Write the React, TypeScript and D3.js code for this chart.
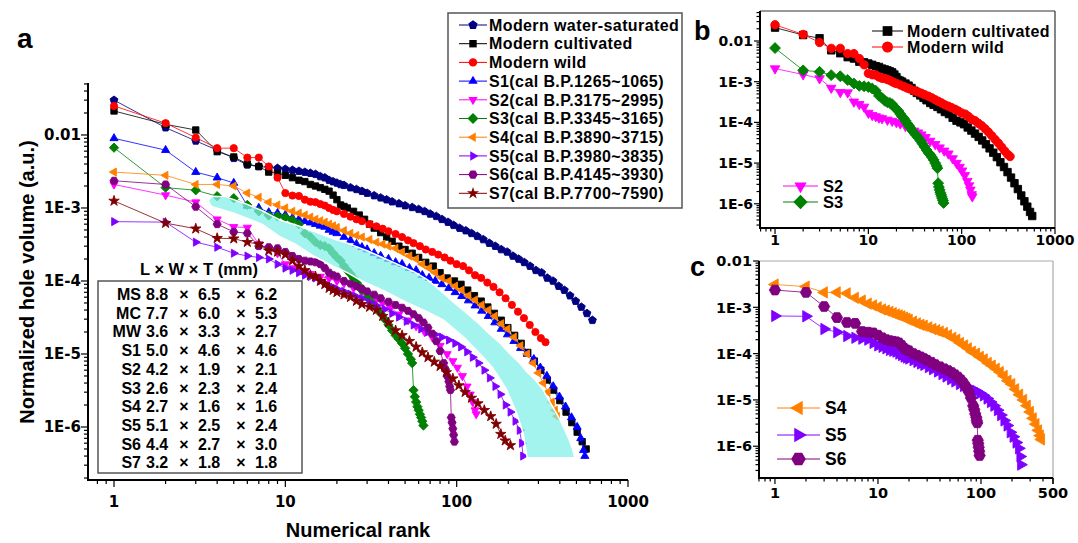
import React from "react";
import * as d3 from "d3";

// ---------------- data (rank, normalized hole volume) ----------------
const MS_DATA: [number, number][] = [
  [1, 0.03], [2, 0.0126], [3, 0.0083], [4, 0.0062], [5, 0.0048], [6, 0.0039], [7, 0.0037], [8, 0.0036], [9, 0.0035],
  [10, 0.0034], [11, 0.0033], [12, 0.0032], [13, 0.0031], [14, 0.003], [15, 0.0029], [16, 0.0027], [17, 0.0026], [18, 0.0024],
  [19, 0.0023], [20, 0.0022], [21, 0.0021], [22, 0.00205], [24, 0.0019], [26, 0.0018], [28, 0.0017], [30, 0.0016], [33, 0.00148],
  [36, 0.00138], [39, 0.0013], [42, 0.00122], [46, 0.00115], [50, 0.00108], [55, 0.00102], [60, 0.00096], [65, 0.0009],
  [70, 0.00083], [76, 0.00077], [82, 0.0007], [89, 0.00064], [96, 0.00058], [104, 0.00053], [113, 0.00049], [122, 0.00045],
  [132, 0.00041], [143, 0.00037], [155, 0.00033], [168, 0.0003], [182, 0.00027], [197, 0.00025], [213, 0.00022], [230, 0.0002],
  [248, 0.00018], [268, 0.00016], [290, 0.00014], [313, 0.00013], [338, 0.00011], [365, 0.0001], [394, 8.5e-5], [425, 7.5e-5],
  [459, 6.3e-5], [495, 5.3e-5], [534, 4.4e-5], [576, 3.6e-5], [620, 2.9e-5],
];
const MC_DATA: [number, number][] = [
  [1, 0.0213], [2, 0.014], [3, 0.0117], [4, 0.0059], [5, 0.005], [6, 0.004], [7, 0.0037], [8, 0.0031], [9, 0.003], [10, 0.0028],
  [11, 0.0026], [12, 0.0024], [13, 0.0023], [14, 0.0021], [15, 0.002], [16, 0.0019], [17, 0.0018], [18, 0.0017], [19, 0.0015],
  [20, 0.0013], [21, 0.0011], [22, 0.00105], [23, 0.001], [25, 0.0009], [27, 0.0008], [29, 0.0007], [31, 0.0006], [33, 0.00053],
  [36, 0.00046], [39, 0.0004], [42, 0.00035], [46, 0.0003], [50, 0.00027], [55, 0.00024], [60, 0.00021], [66, 0.00018],
  [73, 0.00016], [80, 0.00013], [88, 0.00011], [97, 0.0001], [106, 9e-5], [116, 7.5e-5], [127, 6.3e-5], [139, 5.3e-5],
  [152, 4.4e-5], [166, 3.6e-5], [182, 2.9e-5], [199, 2.3e-5], [218, 1.8e-5], [238, 1.4e-5], [260, 1.05e-5], [284, 8e-6],
  [310, 6e-6], [338, 4.4e-6], [368, 3.2e-6], [400, 2.3e-6], [435, 1.6e-6], [470, 1.15e-6], [505, 8.5e-7], [540, 6.3e-7], [570, 5e-7],
];
const MW_DATA: [number, number][] = [
  [1, 0.025], [2, 0.0145], [3, 0.0092], [4, 0.0066], [5, 0.0066], [6, 0.0049], [7, 0.0049], [8, 0.0037], [9, 0.0026], [10, 0.0016],
  [11, 0.00148], [12, 0.00146], [13, 0.0013], [14, 0.00122], [15, 0.0012], [16, 0.00113], [17, 0.00108], [18, 0.001], [19, 0.00094],
  [20, 0.0009], [22, 0.00083], [24, 0.00076], [26, 0.0007], [28, 0.00066], [31, 0.0006], [34, 0.00056], [37, 0.00052], [40, 0.00048],
  [44, 0.00044], [48, 0.0004], [52, 0.00036], [56, 0.00033], [61, 0.0003], [66, 0.00027], [72, 0.00025], [78, 0.00023], [85, 0.00021],
  [92, 0.00019], [100, 0.00017], [109, 0.00016], [118, 0.00014], [128, 0.00012], [139, 0.00011], [151, 9.5e-5], [164, 8.3e-5],
  [178, 7e-5], [193, 5.8e-5], [210, 4.7e-5], [228, 3.8e-5], [247, 3.1e-5], [267, 2.5e-5], [288, 2e-5], [310, 1.65e-5], [330, 1.45e-5],
];
const S1_DATA: [number, number][] = [
  [1, 0.009], [2, 0.0062], [3, 0.0031], [4, 0.0026], [5, 0.0022], [6, 0.00107], [7, 0.001], [8, 0.00087], [9, 0.00085], [10, 0.0008],
  [11, 0.00073], [12, 0.0007], [13, 0.00066], [14, 0.00063], [15, 0.0006], [16, 0.00057], [17, 0.00055], [18, 0.0005], [19, 0.00047],
  [20, 0.00045], [22, 0.0004], [24, 0.00036], [26, 0.00032], [28, 0.00029], [30, 0.00027], [33, 0.00024], [36, 0.00022], [40, 0.0002],
  [44, 0.00018], [48, 0.00017], [53, 0.00015], [58, 0.00014], [63, 0.00012], [69, 0.00011], [75, 0.0001], [82, 9e-5], [90, 8e-5],
  [98, 7e-5], [107, 6.2e-5], [117, 5.4e-5], [128, 4.6e-5], [140, 3.9e-5], [153, 3.3e-5], [167, 2.7e-5], [182, 2.2e-5], [198, 1.85e-5],
  [216, 1.5e-5], [236, 1.2e-5], [258, 1e-5], [282, 8.5e-6], [308, 6.5e-6], [336, 5e-6], [366, 3.6e-6], [398, 2.6e-6], [432, 1.9e-6],
  [468, 1.35e-6], [505, 1e-6], [530, 7e-7], [550, 4.8e-7], [560, 4e-7],
];
const S2_DATA: [number, number][] = [
  [1, 0.0021], [2, 0.0015], [3, 0.0012], [4, 0.0007], [5, 0.00055], [6, 0.00054], [7, 0.00032], [8, 0.00028], [9, 0.00024],
  [10, 0.00017], [11, 0.00015], [12, 0.00014], [13, 0.00013], [14, 0.000125], [16, 0.000115], [18, 0.000108], [20, 0.0001],
  [22, 9.3e-5], [25, 8e-5], [28, 7e-5], [31, 6.2e-5], [34, 5.6e-5], [37, 5e-5], [41, 4.3e-5], [46, 3.5e-5], [52, 2.9e-5],
  [58, 2.4e-5], [65, 2e-5], [72, 1.7e-5], [80, 1.3e-5], [88, 1e-5], [95, 8e-6], [101, 6.5e-6], [108, 5e-6], [115, 3.6e-6],
  [120, 2.8e-6], [124, 2.2e-6], [128, 1.7e-6], [130, 1.5e-6],
];
const S3_DATA: [number, number][] = [
  [1, 0.0067], [2, 0.0019], [3, 0.00175], [4, 0.00145], [5, 0.00136], [6, 0.0011], [7, 0.0009], [8, 0.00079], [9, 0.00077],
  [10, 0.00074], [11, 0.00068], [12, 0.0006], [13, 0.00045], [14, 0.0004], [15, 0.00034], [16, 0.00031], [17, 0.0003], [18, 0.00028],
  [19, 0.00024], [20, 0.00021], [21, 0.00019], [22, 0.00016], [23, 0.00014], [24, 0.000125], [25, 0.00011], [26, 9.5e-5], [27, 8.5e-5],
  [28, 7.5e-5], [30, 6e-5], [32, 5e-5], [34, 4.3e-5], [36, 3.6e-5], [38, 3e-5], [40, 2.5e-5], [42, 2.1e-5], [44, 1.8e-5], [46, 1.6e-5],
  [48, 1.4e-5], [50, 1.2e-5], [52, 1e-5], [54, 8.5e-6], [55, 7.5e-6], [56, 3.2e-6], [57, 2.6e-6], [58, 2.2e-6], [59, 1.9e-6],
  [60, 1.7e-6], [61, 1.5e-6], [62, 1.35e-6], [63, 1.2e-6], [64, 1.05e-6],
];
const S4_DATA: [number, number][] = [
  [1, 0.0031], [2, 0.0028], [3, 0.0021], [4, 0.0021], [5, 0.002], [6, 0.0016], [7, 0.0014], [8, 0.0012], [9, 0.0011], [10, 0.001],
  [11, 0.0009], [12, 0.00085], [13, 0.0008], [14, 0.00075], [15, 0.0007], [16, 0.00067], [17, 0.00064], [18, 0.0006], [19, 0.00057],
  [20, 0.00054], [22, 0.00049], [24, 0.00045], [26, 0.00042], [28, 0.0004], [31, 0.00037], [34, 0.00034], [37, 0.00032], [40, 0.0003],
  [44, 0.00028], [48, 0.00025], [53, 0.00022], [58, 0.0002], [63, 0.00017], [69, 0.00015], [75, 0.00013], [82, 0.00011], [90, 0.0001],
  [98, 8.5e-5], [107, 7.5e-5], [117, 6.3e-5], [128, 5.5e-5], [140, 4.7e-5], [153, 4e-5], [167, 3.3e-5], [182, 2.6e-5], [198, 2.2e-5],
  [216, 1.7e-5], [236, 1.3e-5], [258, 1e-5], [280, 7.5e-6], [300, 5.5e-6], [320, 4e-6], [340, 3e-6], [360, 2.2e-6], [375, 1.7e-6],
  [385, 1.4e-6],
];
const S5_DATA: [number, number][] = [
  [1, 0.00065], [2, 0.00064], [3, 0.00034], [4, 0.00029], [5, 0.00024], [6, 0.00022], [7, 0.00021], [8, 0.0002], [9, 0.00017],
  [10, 0.00015], [11, 0.00014], [12, 0.00013], [13, 0.00012], [14, 0.000115], [15, 0.00011], [16, 0.0001], [17, 9.3e-5], [18, 8.6e-5],
  [19, 8.2e-5], [20, 7.8e-5], [22, 7.2e-5], [24, 6.6e-5], [26, 6.1e-5], [28, 5.7e-5], [31, 5.1e-5], [34, 4.6e-5], [38, 4.1e-5],
  [42, 3.6e-5], [46, 3.2e-5], [51, 2.8e-5], [56, 2.5e-5], [62, 2.2e-5], [68, 2e-5], [75, 1.85e-5], [82, 1.7e-5], [90, 1.55e-5],
  [98, 1.4e-5], [106, 1.25e-5], [115, 1.07e-5], [124, 9e-6], [134, 7.5e-6], [145, 6e-6], [156, 4.7e-6], [168, 3.6e-6], [180, 2.8e-6],
  [193, 2e-6], [206, 1.6e-6], [220, 1.2e-6], [233, 9e-7], [240, 6e-7], [244, 4e-7],
];
const S6_DATA: [number, number][] = [
  [1, 0.00236], [2, 0.0021], [3, 0.00104], [4, 0.0006], [5, 0.00047], [6, 0.00045], [7, 0.0003], [8, 0.00029], [9, 0.00028],
  [10, 0.00025], [11, 0.00022], [12, 0.0002], [13, 0.00019], [14, 0.000185], [15, 0.00018], [16, 0.00017], [17, 0.00015],
  [18, 0.00013], [19, 0.00012], [20, 0.000115], [22, 0.0001], [24, 9.2e-5], [26, 8.5e-5], [28, 7.8e-5], [30, 7.2e-5], [33, 6.5e-5],
  [36, 5.8e-5], [40, 5.2e-5], [44, 4.7e-5], [48, 4.3e-5], [52, 3.9e-5], [56, 3.5e-5], [60, 3.1e-5], [64, 2.7e-5], [68, 2.3e-5],
  [72, 1.9e-5], [76, 1.5e-5], [80, 1.1e-5], [84, 7.5e-6], [86, 6.2e-6], [88, 5e-6], [90, 4.2e-6], [91, 3.6e-6], [92, 3.2e-6],
  [93, 1.35e-6], [94, 1.15e-6], [95, 9.5e-7], [96, 7.8e-7], [97, 6.3e-7],
];
const S7_DATA: [number, number][] = [
  [1, 0.00125], [2, 0.00062], [3, 0.00052], [4, 0.000385], [5, 0.00038], [6, 0.00034], [7, 0.00032], [8, 0.00026], [9, 0.00025],
  [10, 0.00023], [11, 0.00019], [12, 0.00016], [13, 0.00014], [14, 0.00012], [15, 0.000115], [16, 0.0001], [17, 9e-5], [18, 8e-5],
  [19, 7.5e-5], [20, 7e-5], [22, 6.5e-5], [24, 6e-5], [26, 5.3e-5], [28, 4.8e-5], [31, 4.4e-5], [34, 4e-5], [37, 3.3e-5], [40, 2.7e-5],
  [44, 2.1e-5], [48, 1.8e-5], [53, 1.5e-5], [58, 1.25e-5], [63, 1.05e-5], [68, 9e-6], [74, 7.8e-6], [80, 6.8e-6], [87, 5.6e-6],
  [95, 4.6e-6], [103, 3.7e-6], [112, 3e-6], [122, 2.5e-6], [133, 2.1e-6], [145, 1.7e-6], [158, 1.4e-6], [170, 1.1e-6], [181, 8e-7],
  [192, 6.5e-7], [206, 5.6e-7],
];

// shaded band in panel a (upper edge left->right, lower edge left->right)
const BAND_UPPER: [number, number][] = [
  [3.55, 1.25e-3], [3.7, 1.45e-3], [4.5, 1.42e-3], [6, 1.12e-3], [7.3, 9.2e-4], [9.35, 6.8e-4], [11.4, 5.9e-4], [14.6, 4.8e-4],
  [19.6, 3.7e-4], [23, 3.3e-4], [30, 2.6e-4], [36, 2.15e-4], [45, 1.7e-4], [56, 1.35e-4], [67, 1.05e-4], [80, 7.5e-5], [97, 5e-5],
  [115, 3.6e-5], [135, 2.6e-5], [155, 1.9e-5], [180, 1.4e-5], [205, 1e-5], [230, 7.8e-6], [255, 5.8e-6], [283, 4.6e-6],
  [315, 3.4e-6], [350, 2.2e-6], [385, 1.5e-6], [420, 1e-6], [450, 7e-7], [475, 5e-7], [490, 3.8e-7],
];
const BAND_LOWER: [number, number][] = [
  [3.7, 1.05e-3], [5, 8.5e-4], [7.3, 6e-4], [9.35, 4e-4], [11.4, 3.2e-4], [14.6, 2.2e-4], [19, 1.6e-4], [23, 1.3e-4],
  [28, 1e-4], [37, 7.5e-5], [50, 5.2e-5], [67, 3.8e-5], [84, 2.9e-5], [110, 1.7e-5], [140, 9.5e-6], [162, 6.5e-6], [195, 3.3e-6],
  [225, 1.5e-6], [245, 8e-7], [258, 3.8e-7],
];

const SERIES_KEYS = ["MS", "MC", "MW", "S1", "S2", "S3", "S4", "S5", "S6", "S7"];
const SERIES_NAMES = [
  "Modern water-saturated", "Modern cultivated", "Modern wild", "S1(cal B.P.1265~1065)", "S2(cal B.P.3175~2995)",
  "S3(cal B.P.3345~3165)", "S4(cal B.P.3890~3715)", "S5(cal B.P.3980~3835)", "S6(cal B.P.4145~3930)", "S7(cal B.P.7700~7590)",
];
const SERIES_DATA: Record<string, [number, number][]> = {
  MS: MS_DATA, MC: MC_DATA, MW: MW_DATA, S1: S1_DATA, S2: S2_DATA, S3: S3_DATA, S4: S4_DATA, S5: S5_DATA, S6: S6_DATA, S7: S7_DATA,
};
const PANEL_B_KEYS = ["MC", "MW", "S2", "S3"];
const PANEL_C_KEYS = ["S4", "S5", "S6"];

const TABLE_TITLE = "L × W × T (mm)";
const TABLE_ROWS = [
  ["MS", "8.8", "6.5", "6.2"], ["MC", "7.7", "6.0", "5.3"], ["MW", "3.6", "3.3", "2.7"], ["S1", "5.0", "4.6", "4.6"],
  ["S2", "4.2", "1.9", "2.1"], ["S3", "2.6", "2.3", "2.4"], ["S4", "2.7", "1.6", "1.6"], ["S5", "5.1", "2.5", "2.4"],
  ["S6", "4.4", "2.7", "3.0"], ["S7", "3.2", "1.8", "1.8"],
];

const Y_TICKS = [1e-2, 1e-3, 1e-4, 1e-5, 1e-6];
const Y_TICK_LABELS = ["0.01", "1E-3", "1E-4", "1E-5", "1E-6"];
const X_TICKS_AB = [1, 10, 100, 1000];
const X_TICK_LABELS_AB = ["1", "10", "100", "1000"];
const X_TICKS_C = [1, 10, 100, 500];
const X_TICK_LABELS_C = ["1", "10", "100", "500"];

// ---------------- styles ----------------
const STYLE: Record<string, { color: string; shape: string }> = {
  MS: { color: "#000080", shape: "pentagon" },
  MC: { color: "#000000", shape: "square" },
  MW: { color: "#ff0000", shape: "circle" },
  S1: { color: "#0000ff", shape: "up" },
  S2: { color: "#ff00ff", shape: "down" },
  S3: { color: "#008000", shape: "diamond" },
  S4: { color: "#ff8000", shape: "left" },
  S5: { color: "#8000ff", shape: "right" },
  S6: { color: "#800080", shape: "hexagon" },
  S7: { color: "#800000", shape: "star" },
};

const FONT = "'Liberation Sans', Arial, Helvetica, sans-serif";
const TICK_FONT = "'DejaVu Sans', 'Liberation Sans', sans-serif";

function poly(n: number, r: number, rot: number) {
  const pts: string[] = [];
  for (let i = 0; i < n; i++) {
    const a = ((rot + (360 * i) / n) * Math.PI) / 180;
    pts.push((r * Math.cos(a)).toFixed(2) + "," + (r * Math.sin(a)).toFixed(2));
  }
  return "M" + pts.join("L") + "Z";
}

function markerPath(shape: string, r: number): string {
  switch (shape) {
    case "square": return poly(4, r * 1.25, 45);
    case "circle": return d3.symbol(d3.symbolCircle, Math.PI * r * r)() as string;
    case "up": return poly(3, r * 1.3, -90);
    case "down": return poly(3, r * 1.3, 90);
    case "left": return poly(3, r * 1.3, 180);
    case "right": return poly(3, r * 1.3, 0);
    case "diamond": return poly(4, r * 1.3, 0);
    case "pentagon": return poly(5, r * 1.15, -90);
    case "hexagon": return poly(6, r * 1.12, 0);
    case "star": return d3.symbol(d3.symbolStar, r * r * 2.6)() as string;
  }
  return "";
}

function minorVals(lo: number, hi: number) {
  const out: number[] = [];
  for (let e = -9; e <= 4; e++) for (let k = 1; k < 10; k++) {
    const v = k * Math.pow(10, e);
    if (v >= lo * 0.9999 && v <= hi * 1.0001) out.push(v);
  }
  return out;
}

function isPow10(v: number) {
  const l = Math.log10(v);
  return Math.abs(l - Math.round(l)) < 1e-6;
}

type Scale = d3.ScaleLogarithmic<number, number>;

function Axes(props: {
  x: Scale; y: Scale; xTicks: number[]; xLabels: string[]; yTicks: number[]; yLabels: string[];
  major: number; minor: number; fontSize: number; xLabelY: number; yLabelGap: number; frame?: string;
}) {
  const { x, y, xTicks, xLabels, yTicks, yLabels, major, minor, fontSize, xLabelY, yLabelGap, frame } = props;
  const [x0, x1] = x.range();
  const [yb, yt] = y.range();
  const xm = minorVals(x.domain()[0], x.domain()[1]);
  const ym = minorVals(y.domain()[0], y.domain()[1]);
  return (
    <g>
      {frame && (
        <g stroke={frame} strokeWidth={1.2} fill="none">
          <line x1={x0} y1={yt} x2={x1} y2={yt} />
          <line x1={x1} y1={yt} x2={x1} y2={yb} />
        </g>
      )}
      <g stroke="#000" strokeWidth={1.2}>
        {ym.map((v, i) => {
          const L = isPow10(v) ? major : minor;
          return <line key={"ym" + i} x1={x0 - L} x2={x0} y1={y(v)} y2={y(v)} />;
        })}
        {xm.map((v, i) => {
          const L = isPow10(v) || xTicks.indexOf(v) >= 0 ? major : minor;
          return <line key={"xm" + i} x1={x(v)} x2={x(v)} y1={yb} y2={yb + L} />;
        })}
        {xTicks.filter((v) => !isPow10(v)).map((v, i) => (
          <line key={"xx" + i} x1={x(v)} x2={x(v)} y1={yb} y2={yb + major} />
        ))}
      </g>
      <line x1={x0} y1={yt} x2={x0} y2={yb} stroke="#000" strokeWidth={2} />
      <line x1={x0 - 1} y1={yb} x2={x1} y2={yb} stroke="#000" strokeWidth={2} />
      <g fontFamily={TICK_FONT} fontWeight="bold" fontSize={fontSize} fill="#000">
        {yTicks.map((v, i) => (
          <text key={"yl" + i} x={x0 - yLabelGap} y={y(v)} dy="0.36em" textAnchor="end">{yLabels[i]}</text>
        ))}
        {xTicks.map((v, i) => (
          <text key={"xl" + i} x={x(v)} y={xLabelY} textAnchor="middle">{xLabels[i]}</text>
        ))}
      </g>
    </g>
  );
}

function SeriesMarks(props: { keyName: string; x: Scale; y: Scale; r: number; lineW: number }) {
  const { keyName, x, y, r, lineW } = props;
  const data = SERIES_DATA[keyName];
  const st = STYLE[keyName];
  const line = d3.line<[number, number]>().x((d) => x(d[0])).y((d) => y(d[1]));
  const mp = markerPath(st.shape, r);
  return (
    <g>
      <path d={line(data) as string} fill="none" stroke={st.color} strokeWidth={lineW} />
      {data.map((d, i) => (
        <path key={i} d={mp} transform={`translate(${x(d[0]).toFixed(2)},${y(d[1]).toFixed(2)})`}
          fill={st.color} stroke={st.color} strokeWidth={0.9} strokeLinejoin="round" />
      ))}
    </g>
  );
}

function LegendItem(props: { keyName: string; x1: number; x2: number; cy: number; r: number; text: string; tx: number; fontSize: number; ls?: number }) {
  const { keyName, x1, x2, cy, r, text, tx, fontSize, ls } = props;
  const st = STYLE[keyName];
  const mx = (x1 + x2) / 2;
  return (
    <g>
      <line x1={x1} x2={x2} y1={cy} y2={cy} stroke={st.color} strokeWidth={1} />
      <path d={markerPath(st.shape, r)} transform={`translate(${mx},${cy})`} fill={st.color} />
      <text x={tx} y={cy} dy="0.36em" fontFamily={FONT} fontWeight="bold" fontSize={fontSize} letterSpacing={ls || 0} fill="#000">{text}</text>
    </g>
  );
}

export default function App() {
  const xa = d3.scaleLog().domain([0.705, 1000]).range([88, 628]);
  const ya = d3.scaleLog().domain([1.88e-7, 0.0515]).range([480, 83]);
  const xb = d3.scaleLog().domain([0.69, 1000]).range([760, 1055]);
  const yb = d3.scaleLog().domain([2.54e-7, 0.0546]).range([228, 11]);
  const xc = d3.scaleLog().domain([0.7, 500]).range([759, 1053]);
  const yc = d3.scaleLog().domain([2.06e-7, 0.01]).range([478, 261]);

  const bandPts = BAND_UPPER.concat(BAND_LOWER.slice().reverse());
  const bandPath = d3.line<[number, number]>().x((d) => xa(d[0])).y((d) => ya(d[1])).curve(d3.curveLinearClosed)(bandPts) as string;

  const rowY0 = 300, rowDy = 18.7;

  return (
    <svg width={1078} height={543} style={{ position: "absolute", left: 0, top: 0, background: "#fff" }}>
      <rect x={0} y={0} width={1078} height={543} fill="#fff" />
      {/* ---------------- panel a ---------------- */}
      <text x={17} y={48} fontFamily={FONT} fontWeight="bold" fontSize={28}>a</text>
      {SERIES_KEYS.map((k) => (
        <SeriesMarks key={k} keyName={k} x={xa} y={ya} r={3.6} lineW={0.8} />
      ))}
      <path d={bandPath} fill="rgb(128,240,232)" fillOpacity={0.72} stroke="#fff" strokeWidth={1.5} strokeLinejoin="round" />
      <Axes x={xa} y={ya} xTicks={X_TICKS_AB} xLabels={X_TICK_LABELS_AB} yTicks={Y_TICKS} yLabels={Y_TICK_LABELS}
        major={7} minor={4} fontSize={15} xLabelY={507} yLabelGap={7} />
      <text transform="translate(34,282) rotate(-90)" textAnchor="middle" fontFamily={FONT} fontWeight="bold" fontSize={20}>
        Normalized hole volume (a.u.)
      </text>
      <text x={358} y={537} textAnchor="middle" fontFamily={FONT} fontWeight="bold" fontSize={20}>Numerical rank</text>

      {/* legend a */}
      <rect x={448} y={13} width={234} height={195} fill="#fff" stroke="#555" strokeWidth={1.5} />
      {SERIES_KEYS.map((k, i) => (
        <LegendItem key={k} keyName={k} x1={459} x2={487} cy={25 + i * 18.7} r={4.2} text={SERIES_NAMES[i]} tx={489} fontSize={16} ls={0.4} />
      ))}

      {/* size table */}
      <text x={199} y={275} textAnchor="middle" fontFamily={FONT} fontWeight="bold" fontSize={16.5}>{TABLE_TITLE}</text>
      <rect x={98} y={281} width={204} height={192} fill="#fff" stroke="#555" strokeWidth={1.5} />
      <g fontFamily={FONT} fontWeight="bold" fontSize={16} fill="#000">
        {TABLE_ROWS.map((row, i) => {
          const yy = rowY0 + i * rowDy;
          return (
            <g key={row[0]}>
              <text x={141} y={yy} textAnchor="end">{row[0]}</text>
              <text x={146} y={yy}>{row[1]}</text>
              <text x={184} y={yy} textAnchor="middle">×</text>
              <text x={198} y={yy}>{row[2]}</text>
              <text x={241} y={yy} textAnchor="middle">×</text>
              <text x={255} y={yy}>{row[3]}</text>
            </g>
          );
        })}
      </g>

      {/* ---------------- panel b ---------------- */}
      <text x={694} y={40} fontFamily={FONT} fontWeight="bold" fontSize={27}>b</text>
      {PANEL_B_KEYS.map((k) => (
        <SeriesMarks key={k} keyName={k} x={xb} y={yb} r={4.2} lineW={0.8} />
      ))}
      <Axes x={xb} y={yb} xTicks={X_TICKS_AB} xLabels={X_TICK_LABELS_AB} yTicks={Y_TICKS} yLabels={Y_TICK_LABELS}
        major={6} minor={3.5} fontSize={14} xLabelY={245} yLabelGap={7} frame="#333" />
      <LegendItem keyName="MC" x1={872} x2={903} cy={31} r={5.5} text="Modern cultivated" tx={907} fontSize={16} ls={0.35} />
      <LegendItem keyName="MW" x1={872} x2={903} cy={47} r={5.5} text="Modern wild" tx={907} fontSize={16} ls={0.35} />
      <LegendItem keyName="S2" x1={783} x2={818} cy={186} r={5.5} text="S2" tx={823} fontSize={16.5} />
      <LegendItem keyName="S3" x1={783} x2={818} cy={202} r={5.5} text="S3" tx={823} fontSize={16.5} />

      {/* ---------------- panel c ---------------- */}
      <text x={690} y={276} fontFamily={FONT} fontWeight="bold" fontSize={27}>c</text>
      {PANEL_C_KEYS.map((k) => (
        <SeriesMarks key={k} keyName={k} x={xc} y={yc} r={5} lineW={0.8} />
      ))}
      <Axes x={xc} y={yc} xTicks={X_TICKS_C} xLabels={X_TICK_LABELS_C} yTicks={Y_TICKS} yLabels={Y_TICK_LABELS}
        major={6} minor={3.5} fontSize={14.5} xLabelY={498} yLabelGap={7} frame="#aaa" />
      <LegendItem keyName="S4" x1={777} x2={820} cy={408} r={6.5} text="S4" tx={825} fontSize={17.5} />
      <LegendItem keyName="S5" x1={777} x2={820} cy={435} r={6.5} text="S5" tx={825} fontSize={17.5} />
      <LegendItem keyName="S6" x1={777} x2={820} cy={459} r={6.5} text="S6" tx={825} fontSize={17.5} />
    </svg>
  );
}
